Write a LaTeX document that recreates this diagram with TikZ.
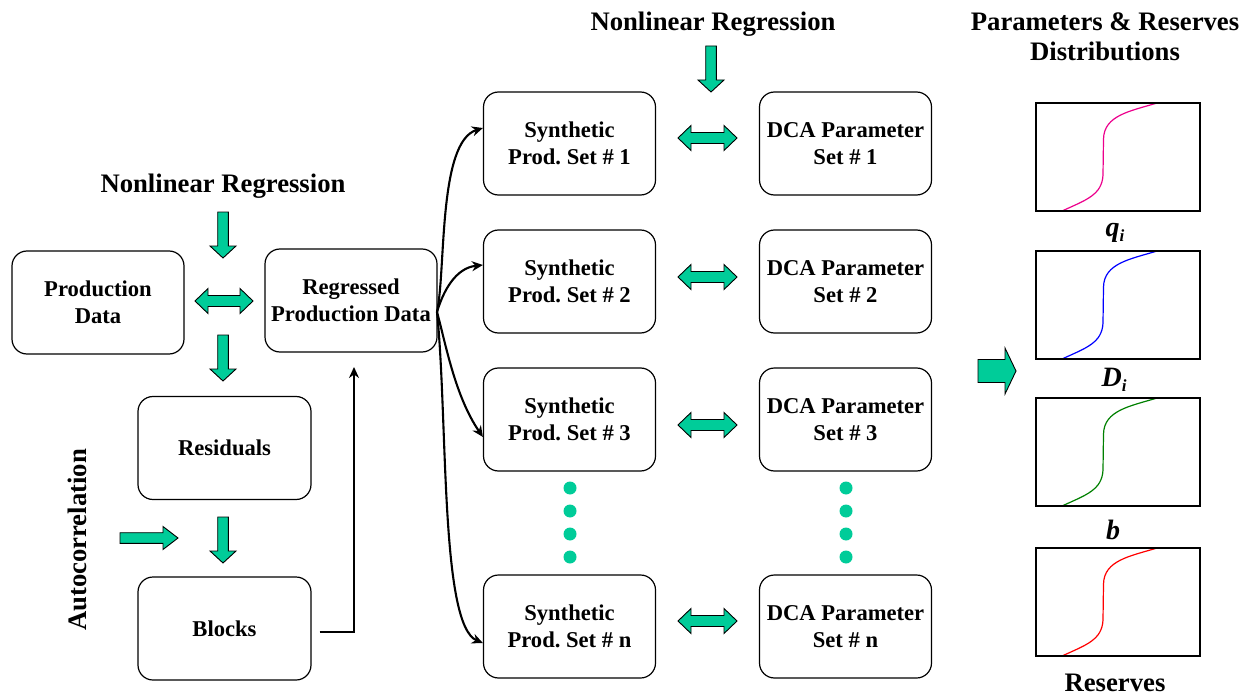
\documentclass[tikz,border=0pt]{standalone}
\usepackage{fontspec}
\setmainfont{Liberation Serif}
\usetikzlibrary{arrows.meta}
\definecolor{gfill}{RGB}{0,204,153}
\frenchspacing
\newcommand\gdown[6]{% x, ytail, ytip, shaft half, head half, head length
  \draw[garrow] (#1-#4,#2) -- (#1+#4,#2) -- (#1+#4,#3-#6) -- (#1+#5,#3-#6) -- (#1,#3) -- (#1-#5,#3-#6) -- (#1-#4,#3-#6) -- cycle;}
\newcommand\gright[6]{% xtail, xtip, y, shaft half, head half, head length
  \draw[garrow] (#1,#3-#4) -- (#2-#6,#3-#4) -- (#2-#6,#3-#5) -- (#2,#3) -- (#2-#6,#3+#5) -- (#2-#6,#3+#4) -- (#1,#3+#4) -- cycle;}
\newcommand\gboth[6]{% xleft, xright, y, shaft half, head half, head length
  \draw[garrow] (#1,#3) -- (#1+#6,#3-#5) -- (#1+#6,#3-#4) -- (#2-#6,#3-#4) -- (#2-#6,#3-#5) -- (#2,#3) -- (#2-#6,#3+#5) -- (#2-#6,#3+#4) -- (#1+#6,#3+#4) -- (#1+#6,#3+#5) -- cycle;}
\newcommand\sub[1]{\raisebox{-0.35ex}{\fontsize{17}{17}\selectfont #1}}
\tikzset{
  box/.style={draw, line width=1.2pt, rounded corners=15pt, minimum width=172pt, minimum height=103pt,
    align=center, inner sep=0pt, font=\fontsize{22.6}{27}\selectfont\bfseries},
  title/.style={align=center, inner sep=0pt, font=\fontsize{26.7}{30}\selectfont\bfseries},
  garrow/.style={draw=black, line width=0.9pt, fill=gfill, line join=miter},
  conn/.style={line width=2.1pt, -{Stealth[length=11pt,width=10pt]}},
  plotbox/.style={draw, line width=1.8pt},
  dot/.style={circle, fill=gfill, minimum size=13pt, inner sep=0pt}
}
\begin{document}
\begin{tikzpicture}[x=1pt,y=-1pt]
\useasboundingbox (0,0) rectangle (1251,698);
% left part
\node[box] (prod) at (98,302.5) {Production\\Data};
\node[box] (reg) at (351,300.5) {Regressed\\Production Data};
\node[box, minimum width=173pt] (res) at (224.5,448) {Residuals};
\node[box, minimum width=173pt] (blk) at (224.5,628.5) {Blocks};
\node[title] (nlr1) at (223,186) {Nonlinear Regression};
\node[title, rotate=90] (auto) at (77,540) {Autocorrelation};
\gdown{223}{212}{258}{5.3}{13}{12}
\gdown{223}{335}{381}{5.3}{13}{12}
\gdown{223}{517}{563}{5.3}{13}{12}
\gright{120}{178}{538}{5.3}{11.5}{15}
\gboth{195}{253}{301}{5.5}{12.5}{13}
% middle rows
\node[box] (s1) at (569.5,143.5) {Synthetic\\Prod. Set \# 1};
\node[box] (s2) at (569.5,281.5) {Synthetic\\Prod. Set \# 2};
\node[box] (s3) at (569.5,419.5) {Synthetic\\Prod. Set \# 3};
\node[box] (sn) at (569.5,626.5) {Synthetic\\Prod. Set \# n};
\node[box] (d1) at (845.5,143.5) {DCA Parameter\\Set \# 1};
\node[box] (d2) at (845.5,281.5) {DCA Parameter\\Set \# 2};
\node[box] (d3) at (845.5,419.5) {DCA Parameter\\Set \# 3};
\node[box] (dn) at (845.5,626.5) {DCA Parameter\\Set \# n};
\node[title] (nlr2) at (713,24) {Nonlinear Regression};
\gdown{711}{46}{92}{5.3}{13}{12}
\gboth{678}{737}{138}{5.5}{12.5}{13}
\gboth{678}{737}{277}{5.5}{12.5}{13}
\gboth{678}{737}{425}{5.5}{12.5}{13}
\gboth{678}{737}{621}{5.5}{12.5}{13}
\foreach \yy [count=\i] in {488,511,534,557} {
  \node[dot] (ls\i) at (570,\yy) {};
  \node[dot] (rs\i) at (846,\yy) {};
}
% connectors
\coordinate (fan) at (437,312);
\draw[conn] (fan) .. controls (446,270) and (438,142) .. ([yshift=15.5pt]s1.west);
\draw[conn] (fan) .. controls (443,292) and (455,268) .. ([yshift=16.5pt]s2.west);
\draw[conn] (fan) .. controls (446,345) and (455,396) .. ([yshift=-17.5pt]s3.west);
\draw[conn] (fan) .. controls (448,420) and (440,625) .. ([yshift=-16.5pt]sn.west);
\coordinate (up) at (354,367);
\draw[conn, line width=1.7pt] ([xshift=8pt,yshift=-3.5pt]blk.east) -| (up);
% right part
\node[title] (par) at (1105,37) {Parameters \& Reserves\\Distributions};
\gright{978}{1016}{371}{11.5}{23}{11}
\foreach \top/\col in {103/magenta, 251/blue, 398/green!50!black, 548/red} {
  \begin{scope}[shift={(1036,\top)}]
    \draw[\col, line width=1.2pt] (26,108) .. controls (50,97) and (66,92) .. (67,72) -- (67.5,36) .. controls (68,12) and (95,8) .. (121,0);
    \draw[plotbox] (0,0) rectangle (164,108);
  \end{scope}
}
\node[title, font=\fontsize{28}{30}\selectfont\bfseries\itshape] (lq) at (1115,233) {q\sub{i}};
\node[title, font=\fontsize{28}{30}\selectfont\bfseries\itshape] (ld) at (1114,380) {D\sub{i}};
\node[title, font=\fontsize{28}{30}\selectfont\bfseries\itshape] (lb) at (1113,530) {b};
\node[title] (lr) at (1115,683) {Reserves};
\end{tikzpicture}
\end{document}
